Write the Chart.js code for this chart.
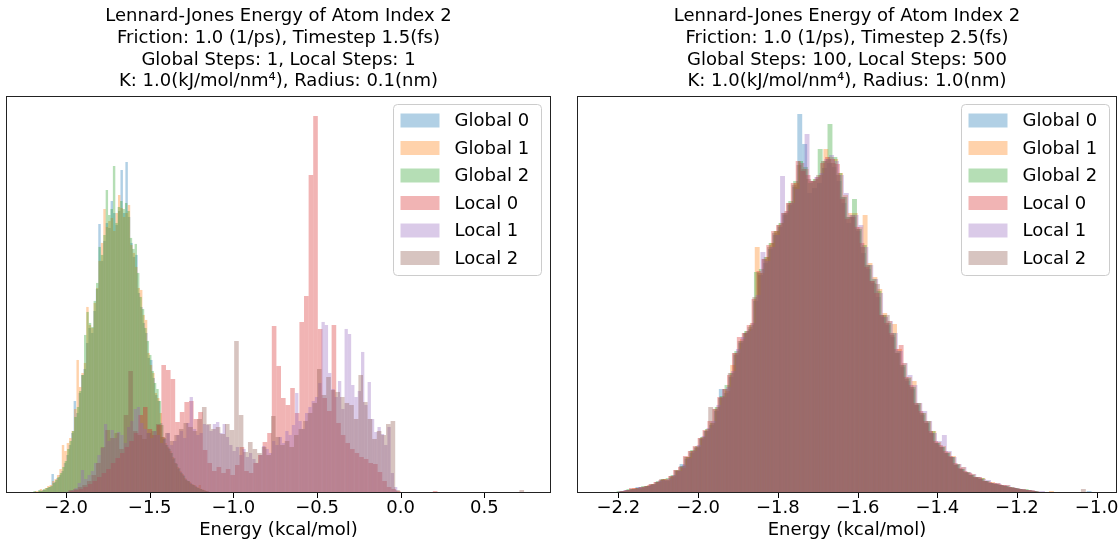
<!DOCTYPE html>
<html lang="en">
<head>
<meta charset="UTF-8">
<title>Lennard-Jones Energy Histograms</title>
<script src="https://cdn.jsdelivr.net/npm/chart.js"></script>
<style>
  html, body { margin: 0; padding: 0; background: #fff; }
  #wrap { position: relative; width: 1120px; height: 544px; }
  canvas { position: absolute; top: 0; }
  #left { left: 0; }
  #right { left: 560px; }
</style>
</head>
<body>
<div id="wrap">
  <canvas id="left" width="560" height="544"></canvas>
  <canvas id="right" width="560" height="544"></canvas>
</div>
<script>
// series labels + tab10 colours
var seriesNames = ['Global 0', 'Global 1', 'Global 2', 'Local 0', 'Local 1', 'Local 2'];
var seriesColors = ['31,119,180', '255,127,14', '44,160,44', '214,39,40', '148,103,189', '140,86,75'];

// ---- left panel: histogram range [lo, hi] of each series, then counts per bin ----
var leftRanges = [[-2.205, -1.10], [-2.215, -1.12], [-2.195, -1.115], [-1.98, 0.77], [-1.99, -0.02], [-1.985, 0.765]];

var leftG0 = [1,0,1,2,3,3,5,6,19,11, 15,18,22,30,38,48,60,92,80,100,
  118,124,150,165,160,182,204,269,232,252, 270,265,292,280,268,282,323,280,331,276,
  250,236,238,200,186,170,160,135,133,115, 98,92,70,54,48,45,40,34,30,24,
  21,18,14,12,10,8,7,5,4,3, 2,2,1,0,1];
var leftG1 = [1,1,2,2,4,3,5,7,8,12, 14,18,24,48,42,50,55,62,84,133,
  106,120,130,186,168,165,190,205,232,250, 284,266,272,275,262,280,298,285,276,280,
  288,248,240,226,205,203,178,173,140,128, 120,100,95,80,56,50,46,42,36,30,
  26,22,19,15,12,11,9,8,6,8, 4,3,2,1,1];
var leftG2 = [2,1,3,2,4,5,6,7,10,13, 16,20,26,32,44,52,62,76,86,102,
  118,158,181,170,166,192,210,246,238,258, 303,278,284,327,270,286,292,284,290,282,
  255,244,249,220,196,184,165,152,138,122, 110,104,92,68,55,48,44,40,35,29,
  25,20,17,13,12,9,8,6,5,4, 3,2,1,1,1];
var leftL0 = [2,3,4,6,9,12,16,20,24,30, 35,40,46,52,60,78,86,64,58,68,
  128,123,114,71,81,91,92,74,81,43, 30,22,26,20,24,18,28,46,22,20,
  30,38,51,60,167,127,95,88,105,80, 171,197,318,377,164,95,82,168,70,58,
  50,44,40,36,34,30,29,21,12,6, 4,2,1,0,1,1,0,1,0,2,
  1,0,1,1,0,1,0,1,0,0, 1,0,1,0,0,1,0,0,1,1];
var leftL1 = [2,3,5,10,23,14,18,22,30,38, 45,69,52,63,55,61,58,50,66,72,
  84,86,70,64,60,55,62,58,50,54, 60,48,52,58,62,55,70,96,64,58,
  60,69,68,62,69,71,60,69,56,48, 42,46,38,44,36,40,34,30,38,47,
  44,40,52,48,56,50,62,58,68,100, 72,64,80,86,92,96,110,171,168,120,
  104,96,112,84,164,159,108,96,102,141, 88,111,74,61,66,59,48,66,20,6];
var leftL2 = [3,4,6,8,12,18,30,46,63,55, 60,44,78,122,62,58,54,60,62,69,
  56,60,52,58,64,70,66,62,74,86, 69,64,66,59,69,63,152,78,41,51,
  44,40,46,38,77,56,48,52,46,58, 64,72,80,90,124,98,116,103,101,96,
  90,88,74,118,91,74,54,62,58,69, 72,3,0,0,0,0,0,0,0,0,
  0,0,0,0,0,0,0,0,0,0, 0,0,0,0,0,0,0,0,3,0];

// ---- right panel ----
var rightRanges = [[-2.243, -1.013], [-2.239, -1.009], [-2.241, -1.011], [-2.247, -1.017], [-2.237, -1.007], [-2.245, -1.015]];

var rightG0 = [0,1,0,1,2,3,4,6,5,7, 8,11,13,12,16,22,29,34,40,45,
  54,62,68,82,104,100,116,138,150,160, 164,192,218,230,244,258,266,278,288,306,
  379,349,300,305,310,325,330,326,312,290, 270,276,262,240,224,210,196,176,168,156,
  140,126,112,104,88,78,70,60,50,46, 40,36,28,24,20,18,15,14,12,10,
  9,8,7,5,5,4,3,3,2,1, 0,1,1,0,1,0,0,0,0,2];
var rightG1 = [0,0,1,1,2,3,5,4,6,8, 9,11,14,13,17,22,25,36,42,46,
  56,64,70,86,96,102,128,140,154,162, 170,246,220,236,250,262,270,282,290,310,
  330,324,312,314,318,344,336,334,320,298, 280,280,266,278,230,216,204,180,172,169,
  144,130,116,112,90,80,72,62,51,47, 41,37,29,26,21,19,16,15,12,11,
  10,8,8,6,5,4,3,3,2,1, 1,2,1,1,0,1,0,1,0,0];
var rightG2 = [1,0,1,2,2,4,4,5,7,7, 9,12,14,15,18,23,27,36,43,47,
  56,64,70,86,97,108,120,142,152,162, 168,221,224,236,250,262,270,280,292,312,
  332,326,310,314,344,332,369,336,320,296, 276,294,264,248,228,214,202,178,170,160,
  142,128,115,106,90,80,72,62,50,46, 40,36,29,24,21,18,16,15,12,10,
  9,8,7,6,5,4,4,2,2,1, 1,1,1,0,1,1,0,0,0,0];
var rightL0 = [1,0,0,1,2,3,5,5,6,7, 9,11,13,14,17,23,26,37,42,47,
  55,63,72,84,96,104,118,140,156,160, 168,194,222,234,248,262,268,280,290,310,
  332,322,318,312,316,330,336,334,329,294, 274,276,266,250,226,212,200,178,170,160,
  144,148,116,108,90,82,72,62,52,48, 42,37,30,25,22,20,16,16,12,11,
  10,9,8,6,5,4,4,3,2,1, 1,1,1,0,1,0,1,0,0,0];
var rightL1 = [0,1,1,2,3,3,4,6,6,8, 9,12,13,14,18,22,28,35,42,48,
  57,65,72,88,96,106,122,144,156,162, 170,198,241,232,246,258,317,282,290,304,
  330,359,312,316,320,334,338,332,318,300, 278,278,268,246,228,214,200,176,172,160,
  142,130,118,108,90,82,72,60,52,58, 42,36,29,26,21,19,16,14,13,10,
  10,8,8,6,5,4,3,3,2,2, 1,1,1,0,1,1,0,1,0,0];
var rightL2 = [0,1,1,1,2,3,4,5,6,7, 9,11,14,13,17,23,27,36,42,46,
  55,62,86,84,95,104,120,140,152,160, 166,196,220,234,246,260,268,280,290,308,
  328,324,314,312,318,332,334,330,318,296, 276,278,264,246,228,212,209,178,178,158,
  140,128,114,106,88,80,70,60,50,46, 40,36,28,24,21,18,16,14,12,10,
  9,8,7,6,5,4,3,3,2,1, 1,1,0,1,0,1,0,0,4,0];

// axis ticks and limits
var leftTicks = [-2.0, -1.5, -1.0, -0.5, 0.0, 0.5];
var rightTicks = [-2.2, -2.0, -1.8, -1.6, -1.4, -1.2, -1.0];
var leftXLim = [-2.3527, 0.8927];
var rightXLim = [-2.3011, -0.9516];
var yTop = 397;

var leftTitle = ['Lennard-Jones Energy of Atom Index 2', 'Friction: 1.0 (1/ps), Timestep 1.5(fs)',
  'Global Steps: 1, Local Steps: 1', 'K: 1.0(kJ/mol/nm\u2074), Radius: 0.1(nm)'];
var rightTitle = ['Lennard-Jones Energy of Atom Index 2', 'Friction: 1.0 (1/ps), Timestep 2.5(fs)',
  'Global Steps: 100, Local Steps: 500', 'K: 1.0(kJ/mol/nm\u2074), Radius: 1.0(nm)'];

var FONT = "'DejaVu Sans', sans-serif";
Chart.defaults.font.family = FONT;
Chart.defaults.color = '#000';

// bin centres of an evenly binned histogram -> {x, y} bars
function histBars(range, counts) {
  var lo = range[0], hi = range[1], n = counts.length, w = (hi - lo) / n;
  return counts.map(function (c, i) { return { x: lo + (i + 0.5) * w, y: c }; });
}

function fmtTick(v) {
  return (v < 0 ? '\u2212' : '') + Math.abs(v).toFixed(1);
}

// axes frame, outward tick marks and a matplotlib-style legend box
function framePlugin(tickValues, legendRight, legendTop) {
  return {
    id: 'frameLegend',
    afterDatasetsDraw: function (chart) {
      var a = chart.chartArea, ctx = chart.ctx, xs = chart.scales.x;
      ctx.save();
      ctx.strokeStyle = '#222';
      ctx.lineWidth = 1;
      ctx.strokeRect(Math.round(a.left) - 0.5, Math.round(a.top) + 0.5,
        Math.round(a.right) - Math.round(a.left) + 1, Math.round(a.bottom) - Math.round(a.top) - 1);
      ctx.strokeStyle = '#000';
      ctx.beginPath();
      tickValues.forEach(function (v) {
        var px = Math.round(xs.getPixelForValue(v)) + 0.5;
        ctx.moveTo(px, Math.round(a.bottom));
        ctx.lineTo(px, Math.round(a.bottom) + 5);
      });
      ctx.stroke();
      ctx.restore();
    },
    afterDraw: function (chart) {
      var a = chart.chartArea, ctx = chart.ctx;
      var w = 148, h = 171, r = 4;
      var x = Math.round(a.right - legendRight - w) + 0.5, y = Math.round(a.top + legendTop) + 0.5;
      ctx.save();
      ctx.beginPath();
      ctx.moveTo(x + r, y);
      ctx.lineTo(x + w - r, y);
      ctx.arcTo(x + w, y, x + w, y + r, r);
      ctx.lineTo(x + w, y + h - r);
      ctx.arcTo(x + w, y + h, x + w - r, y + h, r);
      ctx.lineTo(x + r, y + h);
      ctx.arcTo(x, y + h, x, y + h - r, r);
      ctx.lineTo(x, y + r);
      ctx.arcTo(x, y, x + r, y, r);
      ctx.closePath();
      ctx.fillStyle = 'rgba(255,255,255,0.8)';
      ctx.fill();
      ctx.strokeStyle = '#cccccc';
      ctx.lineWidth = 1;
      ctx.stroke();
      ctx.font = '18px ' + FONT;
      ctx.textBaseline = 'middle';
      chart.data.datasets.forEach(function (ds, i) {
        var cy = y + 16 + i * 27.5;
        ctx.fillStyle = ds.backgroundColor;
        ctx.fillRect(x + 7, cy - 7, 39, 14);
        ctx.fillStyle = '#000';
        ctx.fillText(ds.label, x + 61, cy + 1);
      });
      ctx.restore();
    }
  };
}

function makeChart(id, title, ranges, counts, xlim, ticks, pad, legendRight, legendTop) {
  var datasets = seriesNames.map(function (name, i) {
    return {
      label: name,
      data: histBars(ranges[i], counts[i]),
      backgroundColor: 'rgba(' + seriesColors[i] + ',0.35)',
      borderWidth: 0,
      inflateAmount: 0,
      barThickness: 'flex',
      barPercentage: 1,
      categoryPercentage: 1,
      order: seriesNames.length - i
    };
  });
  return new Chart(document.getElementById(id), {
    type: 'bar',
    data: { datasets: datasets },
    plugins: [framePlugin(ticks, legendRight, legendTop)],
    options: {
      responsive: false,
      animation: false,
      devicePixelRatio: 1,
      layout: { padding: { left: pad[0], right: pad[1], top: 0, bottom: 0 } },
      plugins: {
        legend: { display: false },
        tooltip: { enabled: false },
        title: {
          display: true,
          text: title,
          color: '#000',
          font: { size: 18, weight: 'normal', lineHeight: 1.2 },
          padding: { top: 6, bottom: 3.5 }
        }
      },
      scales: {
        x: {
          type: 'linear',
          stacked: true,   // one column per bin: series overlap instead of sitting side by side
          offset: false,
          min: xlim[0],
          max: xlim[1],
          afterBuildTicks: function (scale) {
            scale.ticks = ticks.map(function (v) { return { value: v }; });
          },
          ticks: {
            autoSkip: false,
            maxRotation: 0,
            padding: 0,
            color: '#000',
            font: { size: 18, lineHeight: 1.1 },
            callback: function (v) { return fmtTick(v); }
          },
          grid: {
            display: false,
            offset: false,
            drawTicks: true,
            tickLength: 5
          },
          border: { display: false },
          title: {
            display: true,
            text: 'Energy (kcal/mol)',
            color: '#000',
            font: { size: 18, lineHeight: 1.2 },
            padding: { top: 1.4, bottom: 3.2 }
          }
        },
        y: {
          type: 'linear',
          stacked: false,
          display: false,
          min: 0,
          max: yTop
        }
      }
    }
  });
}

makeChart('left', leftTitle,
  leftRanges, [leftG0, leftG1, leftG2, leftL0, leftL1, leftL2],
  leftXLim, leftTicks, [7, 10], 9, 8);
makeChart('right', rightTitle,
  rightRanges, [rightG0, rightG1, rightG2, rightL0, rightL1, rightL2],
  rightXLim, rightTicks, [18, 4], 7, 8);
</script>
</body>
</html>
